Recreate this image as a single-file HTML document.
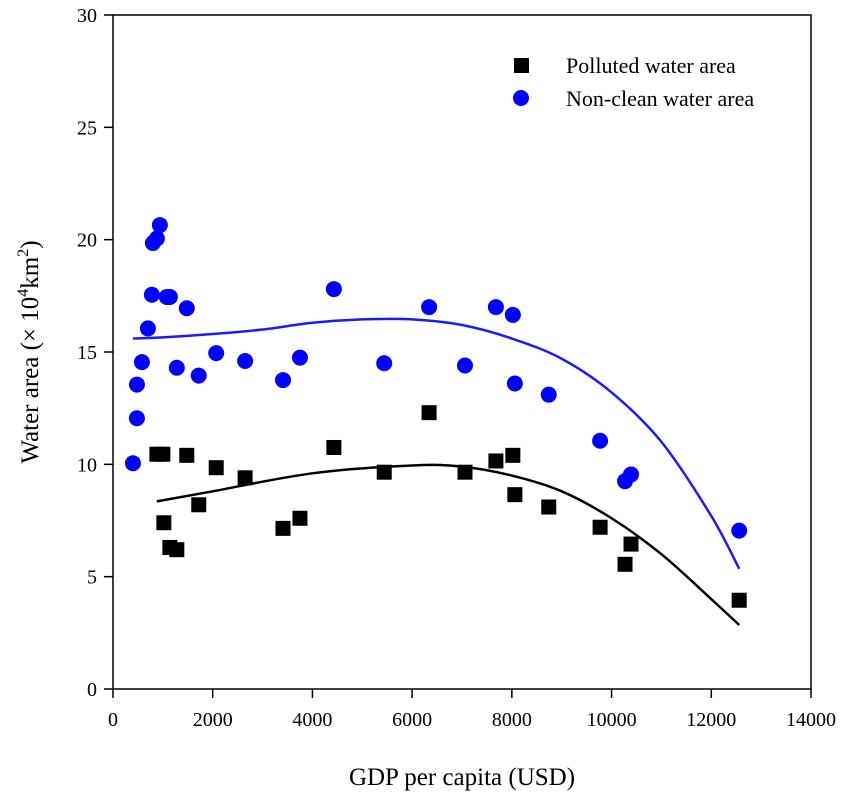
<!DOCTYPE html>
<html><head><meta charset="utf-8"><style>
body{margin:0;background:#fff}
svg text{font-family:"Liberation Serif",serif;fill:#000}
</style></head><body>
<svg width="850" height="804" id="c"></svg>
<script>
const xTicks=[0,2000,4000,6000,8000,10000,12000,14000];
const yTicks=[0,5,10,15,20,25,30];
const pollX=[880,1000,1020,1140,1280,1480,1720,2070,2650,3410,3750,4430,5440,6340,7060,7680,8020,8060,8740,9770,10270,10390,12560];
const pollY=[10.45,10.45,7.4,6.3,6.2,10.4,8.2,9.85,9.4,7.15,7.6,10.75,9.65,12.3,9.65,10.15,10.4,8.65,8.1,7.2,5.55,6.45,3.95];
const ncX=[400,480,480,580,700,780,800,880,940,1080,1140,1280,1480,1720,2070,2650,3410,3750,4430,5440,6340,7060,7680,8020,8060,8740,9770,10270,10390,12560];
const ncY=[10.05,12.05,13.55,14.55,16.05,17.55,19.85,20.05,20.65,17.45,17.45,14.3,16.95,13.95,14.95,14.6,13.75,14.75,17.8,14.5,17.0,14.4,17.0,16.65,13.6,13.1,11.05,9.25,9.55,7.05];
const fitPX=[880,2000,4000,6000,7000,8000,9000,10000,11000,12000,12560];
const fitPY=[8.35,8.8,9.6,9.95,9.9,9.5,8.8,7.6,6.0,4.0,2.85];
const fitNX=[400,1000,2000,3000,4000,5000,6000,7000,8000,9000,10000,11000,12000,12560];
const fitNY=[15.6,15.65,15.8,16.0,16.3,16.45,16.45,16.2,15.6,14.7,13.2,11.0,7.7,5.35];

const X0=113,X1=811,Y0=689,Y1=15;
const sx=v=>X0+(v/14000)*(X1-X0);
const sy=v=>Y0-(v/30)*(Y0-Y1);
const svg=document.getElementById('c');
const NS='http://www.w3.org/2000/svg';
function mk(t,a,p){const e=document.createElementNS(NS,t);for(const k in a)e.setAttribute(k,a[k]);(p||svg).appendChild(e);return e;}

let e=mk('rect',{x:X0,y:Y1,width:X1-X0,height:Y0-Y1,fill:'none',stroke:'#000','stroke-width':1.5});

const xg=mk('g',{});
xTicks.forEach(t=>{mk('line',{x1:sx(t),x2:sx(t),y1:Y0,y2:Y0+9,stroke:'#000','stroke-width':1.5},xg);
 const tx=mk('text',{x:sx(t),y:Y0+37,'text-anchor':'middle','font-size':20},xg);tx.textContent=t;
 });
const yg=mk('g',{});
yTicks.forEach(t=>{mk('line',{x1:X0-9,x2:X0,y1:sy(t),y2:sy(t),stroke:'#000','stroke-width':1.5},yg);
 const tx=mk('text',{x:X0-16,y:sy(t)+7,'text-anchor':'end','font-size':20},yg);tx.textContent=t;
 });
e=mk('text',{x:(X0+X1)/2,y:785,'text-anchor':'middle','font-size':25});e.textContent='GDP per capita (USD)';

e=mk('text',{x:0,y:0,'text-anchor':'middle','font-size':25,transform:'translate(38,352) rotate(-90)'});
e.innerHTML='Water area (× 10<tspan font-size="16" dy="-10">4</tspan><tspan dy="10">km</tspan><tspan font-size="16" dy="-10">2</tspan><tspan dy="10">)</tspan>';


function smooth(xs,ys){const p=xs.map((x,i)=>[sx(x),sy(ys[i])]);let d='M'+p[0][0]+','+p[0][1];
 for(let i=0;i<p.length-1;i++){const a=p[Math.max(0,i-1)],b=p[i],c=p[i+1],q=p[Math.min(p.length-1,i+2)];
 d+=` C${b[0]+(c[0]-a[0])/6},${b[1]+(c[1]-a[1])/6} ${c[0]-(q[0]-b[0])/6},${c[1]-(q[1]-b[1])/6} ${c[0]},${c[1]}`;}return d;}
e=mk('path',{d:smooth(fitNX,fitNY),fill:'none',stroke:'#1a1aff','stroke-width':2.5});

e=mk('path',{d:smooth(fitPX,fitPY),fill:'none',stroke:'#000','stroke-width':2.5});


ncX.forEach((x,i)=>{const c=mk('circle',{cx:sx(x),cy:sy(ncY[i]),r:8,fill:'#0000ff'});
 });
pollX.forEach((x,i)=>{const r=mk('rect',{x:sx(x)-7.5,y:sy(pollY[i])-7.5,width:15,height:15,fill:'#000'});
 });

const lg=mk('g',{});
mk('rect',{x:514,y:58,width:15,height:15,fill:'#000'},lg);
e=mk('text',{x:566,y:73,'font-size':22},lg);e.textContent='Polluted water area';

mk('circle',{cx:521,cy:98,r:8,fill:'#0000ff'},lg);
e=mk('text',{x:566,y:106,'font-size':22},lg);e.textContent='Non-clean water area';

</script>
</body></html>
